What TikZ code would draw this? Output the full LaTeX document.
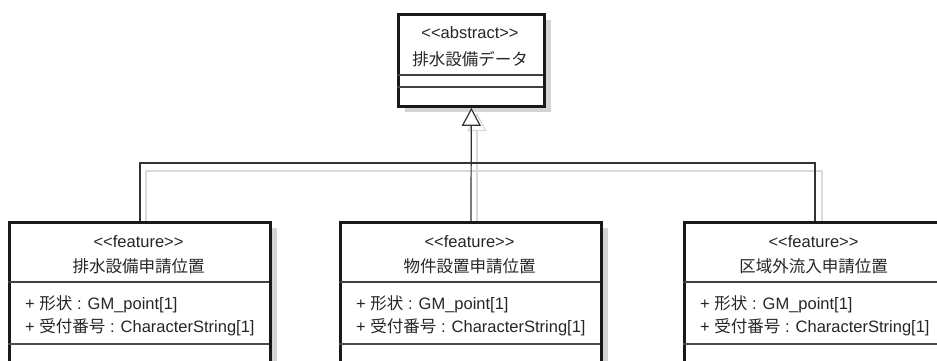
\documentclass[tikz,border=0pt]{standalone}
\usepackage{fontspec}
\setmainfont{Liberation Sans}
\newfontfamily\cjk{Noto Sans CJK JP}
\usetikzlibrary{arrows.meta}
\tikzset{
  classbox/.style={draw=black!90, line width=2.8pt, fill=white, rectangle, inner sep=0pt, anchor=north west},
  shadowbox/.style={fill=black!17, draw=none, rectangle, inner sep=0pt, anchor=north west},
  sep/.style={draw=black!75, line width=1.1pt},
  septhick/.style={draw=black!70, line width=1.8pt},
  conn/.style={draw=black!80, line width=1.2pt},
  connshadow/.style={draw=black!15, line width=1.2pt},
  txt/.style={inner sep=0pt, text=black!85, font=\fontsize{16.5}{17}\selectfont},
  attr/.style={txt, anchor=west},
  gen/.style={-{Triangle[open, length=18pt, width=19pt, fill=white]}},
}
\begin{document}
\begin{tikzpicture}[x=1pt,y=-1pt]
\useasboundingbox (0,0) rectangle (937,361);
\clip (0,0) rectangle (937,361);
\fill[white] (0,0) rectangle (937,361);
% shadows of connectors
\coordinate (sj1) at (146,171);
\coordinate (sj3) at (822,171);
\coordinate (sm) at (477,221);
\coordinate (stop) at (477,113);
\draw[connshadow] (sj1) -- (sj3);
\draw[connshadow] (sj1) -- (146,221);
\draw[connshadow] (sj3) -- (822,221);
\draw[connshadow, -{Triangle[open, length=18pt, width=19pt]}] (sm) -- (stop);
% box shadows
\node[shadowbox, minimum width=146, minimum height=92] (ts) at (405,20) {};
\node[shadowbox, minimum width=261, minimum height=150] (s1) at (16,228) {};
\node[shadowbox, minimum width=261, minimum height=150] (s2) at (347,228) {};
\node[shadowbox, minimum width=261, minimum height=150] (s3) at (691,228) {};
% top class
\node[classbox, minimum width=146, minimum height=92] (top) at (397,13) {};
\draw[sep] (397,75) -- (543,75);
\draw[sep] (397,87) -- (543,87);
\node[txt] (topst) at (470,33) {{<}{<}abstract{>}{>}};
\node[txt] (topnm) at (470,59) {\cjk 排水設備データ};
% feature classes
\foreach \n/\x/\name in {b1/8/排水設備申請位置, b2/339/物件設置申請位置, b3/683/区域外流入申請位置}{
  \node[classbox, minimum width=261, minimum height=150] (\n) at (\x,221) {};
  \draw[sep] (\x,282) -- ++(261,0);
  \draw[septhick] (\x,344) -- ++(261,0);
  \node[txt] (\n st) at (\x+130.5,242) {{<}{<}feature{>}{>}};
  \node[txt] (\n nm) at (\x+130.5,266) {\cjk \name};
  \node[attr] (\n a1) at (\x+17,304) {+ {\cjk 形状} : GM\_point[1]};
  \node[attr] (\n a2) at (\x+17,327) {+ {\cjk 受付番号} : CharacterString[1]};
}
% connectors
\coordinate (j) at (470,163);
\draw[conn] (b1.north) |- (j);
\draw[conn] (b3.north) |- (j);
\draw[conn, gen] (b2.north) -- (top.south);
\end{tikzpicture}
\end{document}
